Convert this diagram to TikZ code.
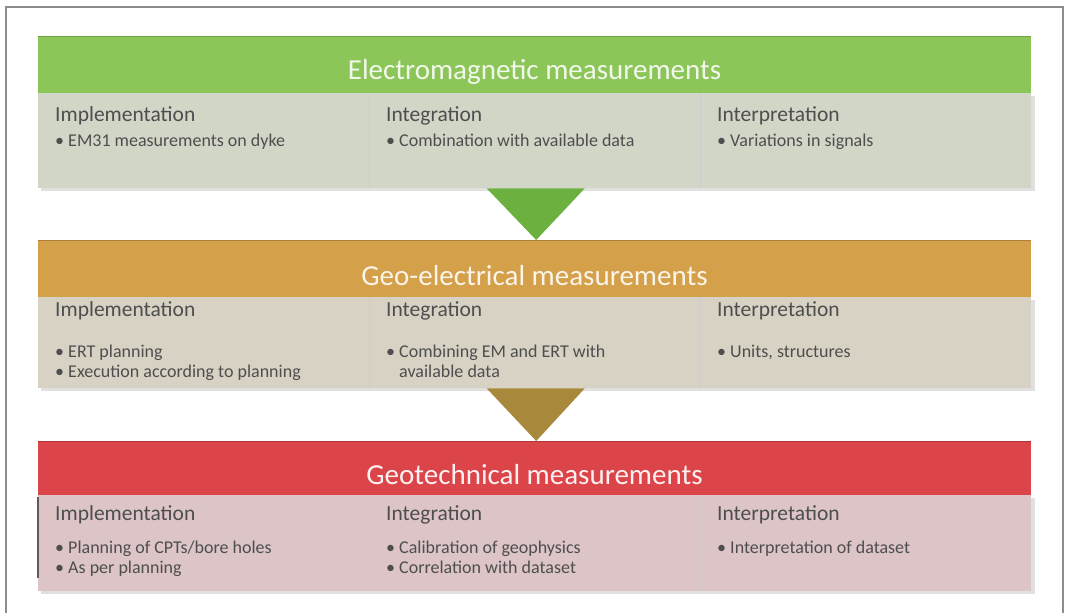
\documentclass[tikz,border=0pt]{standalone}
\usepackage{fontspec}
\setmainfont{Carlito}
\usetikzlibrary{calc}

% --- 色 ---
\definecolor{emhead}{RGB}{141,198,88}
\definecolor{embody}{RGB}{210,214,199}
\definecolor{emarrow}{RGB}{108,176,64}
\definecolor{gehead}{RGB}{212,160,74}
\definecolor{gebody}{RGB}{216,210,196}
\definecolor{gearrow}{RGB}{168,136,58}
\definecolor{gthead}{RGB}{219,69,74}
\definecolor{gtbody}{RGB}{220,196,199}
\definecolor{bodytext}{RGB}{78,78,78}

\begin{document}
\begin{tikzpicture}[x=1pt, y=-1pt,
        headbox/.style={rectangle, anchor=north west, inner sep=0pt, minimum width=993pt},
        bodybox/.style={rectangle, anchor=north west, inner sep=0pt, minimum width=993pt},
        title/.style={anchor=base, inner sep=0pt, font=\fontsize{29}{32}\selectfont},
        colhead/.style={anchor=base west, inner sep=0pt, text=bodytext, font=\fontsize{21.5}{25}\selectfont},
        item/.style={anchor=base west, inner sep=0pt, text=bodytext, font=\fontsize{18}{21}\selectfont},
        divider/.style={draw=black!20, line width=0.8pt},
        shadow/.style={fill=black, opacity=0.12}
    ]
    \useasboundingbox (0,0) rectangle (1069,613);

    % --- 枠線 ---
    \draw[black!45, line width=1.2pt] (6,613) -- (6,7) -- (1063,7) -- (1063,613);

    % --- 1. 電磁探査 ---
    \fill[shadow] (41,96) rectangle (1035,191);
    \node[headbox, fill=emhead, minimum height=57pt] (emH) at (38,36) {};
    \node[bodybox, fill=embody, minimum height=95pt] (emB) at (38,93) {};
    \draw[emhead!80!black, line width=1pt] (emH.north west) -- (emH.north east);
    \node[title, text=white!88!emhead] (emT) at (534.5,79) {Electromagnetic measurements};
    \foreach \x in {369,700} \draw[divider] (\x,93) -- (\x,188);

    % --- 2. 電気探査 ---
    \fill[shadow] (41,300) rectangle (1035,391);
    \node[headbox, fill=gehead, minimum height=57pt] (geH) at (38,240) {};
    \node[bodybox, fill=gebody, minimum height=91pt] (geB) at (38,297) {};
    \draw[gehead!80!black, line width=1pt] (geH.north west) -- (geH.north east);
    \node[title, text=white!88!gehead] (geT) at (534.5,285) {Geo-electrical measurements};
    \foreach \x in {369,700} \draw[divider] (\x,297) -- (\x,388);

    % --- 3. 地盤調査 ---
    \fill[shadow] (41,498) rectangle (1035,594);
    \node[headbox, fill=gthead, minimum height=54pt] (gtH) at (38,441) {};
    \node[bodybox, fill=gtbody, minimum height=96pt] (gtB) at (38,495) {};
    \draw[gthead!80!black, line width=1pt] (gtH.north west) -- (gtH.north east);
    \draw[gtbody!45!black, line width=1.6pt] ([yshift=-2pt]gtB.north west) -- ([yshift=13pt]gtB.south west);
    \node[title, text=white!92!gthead] (gtT) at (534.5,484) {Geotechnical measurements};
    \foreach \x in {369,700} \draw[divider] (\x,495) -- (\x,591);

    % --- 列見出し ---
    \foreach \b/\y in {em/121, ge/316, gt/520} {
        \foreach \x/\h [count=\i] in {55/Implementation, 386/Integration, 717/Interpretation}
            \node[colhead] (\b C\i) at (\x,\y) {\h};
    }

    % --- 項目 ---
    \node[item] (emI1) at (55,146) {\textbullet\ EM31 measurements on dyke};
    \node[item] (emI2) at (386,146) {\textbullet\ Combination with available data};
    \node[item] (emI3) at (717,146) {\textbullet\ Variations in signals};

    \node[item] (geI1) at (55,357) {\textbullet\ ERT planning};
    \node[item] (geI1b) at (55,377) {\textbullet\ Execution according to planning};
    \node[item] (geI2) at (386,357) {\textbullet\ Combining EM and ERT with};
    \node[item] (geI2b) at (386,377) {\phantom{\textbullet\ }available data};
    \node[item] (geI3) at (717,357) {\textbullet\ Units, structures};

    \node[item] (gtI1) at (55,553) {\textbullet\ Planning of CPTs/bore holes};
    \node[item] (gtI1b) at (55,573) {\textbullet\ As per planning};
    \node[item] (gtI2) at (386,553) {\textbullet\ Calibration of geophysics};
    \node[item] (gtI2b) at (386,573) {\textbullet\ Correlation with dataset};
    \node[item] (gtI3) at (717,553) {\textbullet\ Interpretation of dataset};

    % --- 矢印 ---
    \fill[emarrow] ($(emB.south)+(-48,0)$) -- ($(emB.south)+(50,0)$) -- ($(geH.north)+(1.5,0)$) -- cycle;
    \fill[gearrow] ($(geB.south)+(-48,0)$) -- ($(geB.south)+(50,0)$) -- ($(gtH.north)+(1.5,0)$) -- cycle;

\end{tikzpicture}
\end{document}
